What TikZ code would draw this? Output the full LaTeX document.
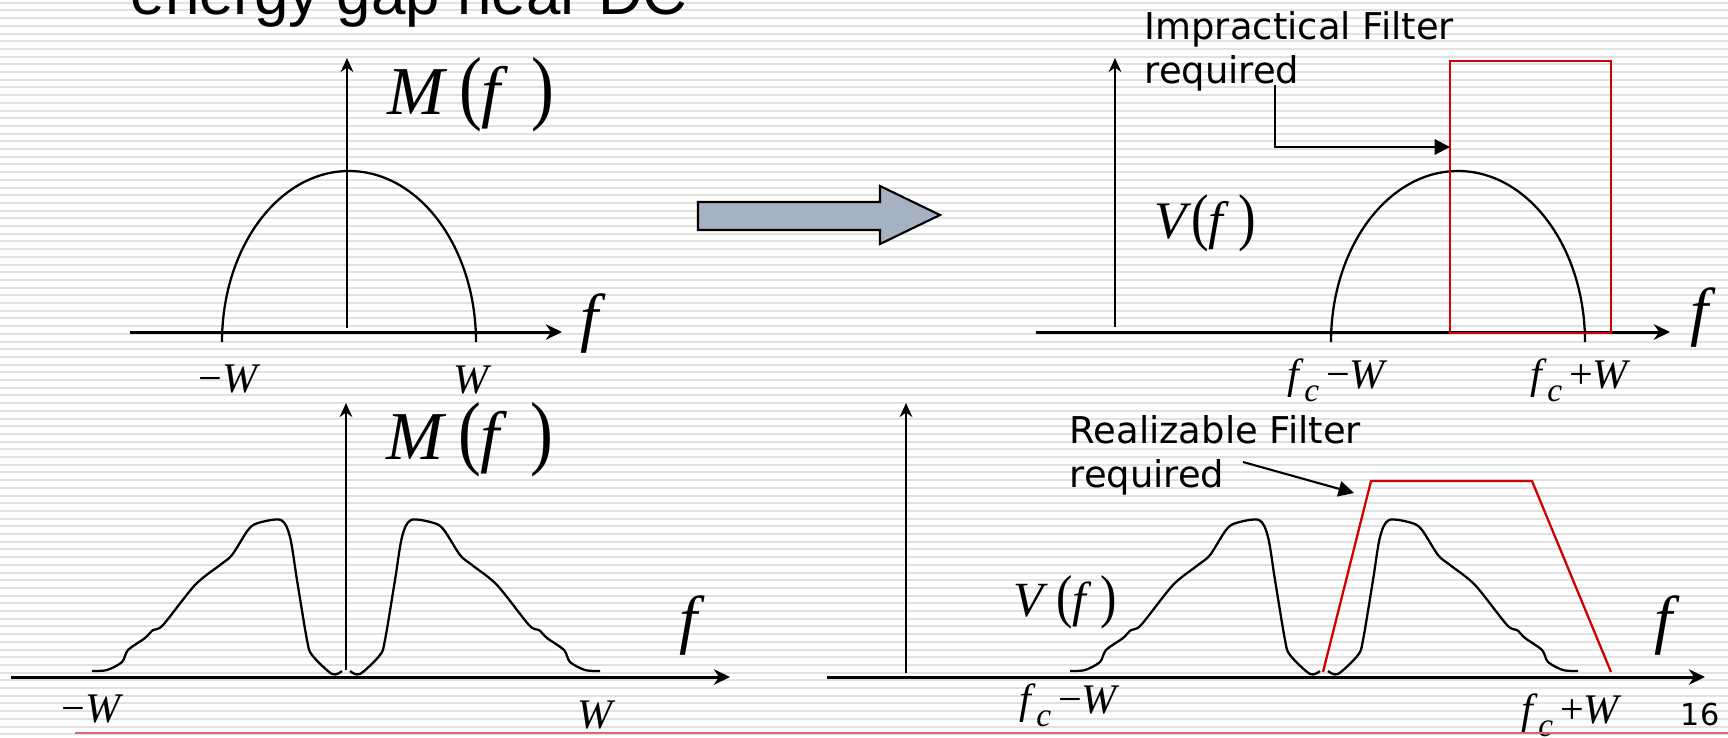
\documentclass[tikz,border=0pt]{standalone}
\usepackage{fontspec}
\usepackage{graphicx}
\setmainfont{Liberation Serif}
\newfontfamily\slidesans{DejaVu Sans}
\newfontfamily\headsans{Liberation Sans}
\usetikzlibrary{arrows.meta}
\definecolor{stripegray}{HTML}{E1E1E1}
\definecolor{blockfill}{HTML}{A4B2C1}
\definecolor{filterred}{HTML}{D00000}
\definecolor{rulered}{HTML}{D86C6C}
\newcommand{\tallp}[1]{\scalebox{1}[1.2]{#1}}
\newcommand{\fsubc}{\textit{f}\raisebox{-0.7ex}{\fontsize{9.5}{10}\selectfont\textit{c}}}

\tikzset{
  stripe/.style={stripegray,line width=0.57pt},
  haxis/.style={line width=0.85pt,-{Stealth[length=4.6pt,width=4.4pt]}},
  vaxis/.style={line width=0.6pt,-{Stealth[length=4pt,width=3.6pt]}},
  spectrum/.style={line width=0.65pt,line join=round},
  filter/.style={filterred,line width=0.65pt},
  pointer/.style={line width=0.6pt,-{Triangle[length=4.4pt,width=4.4pt]}},
  speclabel/.style={inner sep=0pt,font=\fontsize{19.5}{22}\selectfont},
  vlabel/.style={inner sep=0pt,font=\fontsize{15}{17}\selectfont},
  flabel/.style={inner sep=0pt,font=\fontsize{18.5}{20}\selectfont},
  edgelabel/.style={inner sep=0pt,anchor=base,font=\fontsize{12}{14}\selectfont},
  note/.style={inner sep=0pt,anchor=base west,align=left,
    font=\slidesans\fontsize{10.5}{12.5}\selectfont},
}

\begin{document}
\begin{tikzpicture}[x=0.1mm,y=0.1mm]
  \useasboundingbox (0,0) rectangle (1728,737);
  \clip (0,0) rectangle (1728,737);
  % striped slide background
  \foreach \k in {0,...,95}
    \draw[stripe] (0,734.3-7.7*\k) -- (1728,734.3-7.7*\k);
  \node[inner sep=0pt,anchor=base west,font=\headsans\fontsize{17.6}{20}\selectfont]
    (title) at (130,723) {energy gap near DC};

  % top left: baseband spectrum
  \draw[haxis] (130,405) -- (562,405);
  \draw[vaxis] (347,409) -- (347,679);
  \node[speclabel] (mTop) at (471,642) {\textit{M}\,\tallp{(}\textit{f}\,\,\tallp{)}};
  \node[flabel] (fTopL) at (593,413) {\textit{f}};
  \node[edgelabel] (wNegTop) at (230,345) {−\textit{W}};
  \node[edgelabel] (wPosTop) at (473,344) {\textit{W}};

  % top right: shifted spectrum, ideal filter
  \draw[haxis] (1036,405) -- (1670,405);
  \draw[vaxis] (1115,410) -- (1115,679);
  \foreach \cx in {349,1458}
    \draw[spectrum] (\cx-127,395) arc[start angle=180,end angle=0,x radius=127,y radius=171];
  \draw[filter] (1450,404) rectangle (1611,676);
  \node[vlabel] (vTop) at (1205,514) {\textit{V}\tallp{(}\textit{f}\,\tallp{)}};
  \node[flabel] (fTopR) at (1703,419) {\textit{f}};
  \node[edgelabel] (fcNegTop) at (1338,349) {\fsubc\,−\textit{W}};
  \node[edgelabel] (fcPosTop) at (1581,349) {\fsubc\,+\textit{W}};
  \node[note] (impNote) at (1144,654) {Impractical Filter\\required};
  \coordinate (impStart) at (1275,652);
  \coordinate (impTip) at (1450,590);
  \draw[pointer] (impStart) |- (impTip);

  % block arrow
  \draw[line width=0.6pt,fill=blockfill]
    (698,535) -- (880,535) -- (880,551) -- (940,522) -- (880,493)
    -- (880,507) -- (698,507) -- cycle;

  % bottom left: spectrum with gap near DC
  \draw[haxis] (11,60) -- (730,60);
  \draw[vaxis] (346,67) -- (346,334);
  \node[speclabel] (mBot) at (470,297) {\textit{M}\,\tallp{(}\textit{f}\,\,\tallp{)}};
  \node[flabel] (fBotL) at (692,111) {\textit{f}};
  \node[edgelabel] (wNegBot) at (93,15) {−\textit{W}};
  \node[edgelabel] (wPosBot) at (597,9) {\textit{W}};

  % bottom right: shifted spectrum, realizable filter
  \draw[haxis] (827,60) -- (1705,60);
  \draw[vaxis] (906,64) -- (906,334);
  \foreach \cx in {346,1324}
    \foreach \s in {1,-1}
      \draw[spectrum,shift={(\cx,60)},xscale=\s] plot[smooth,tension=0.5] coordinates {
        (4,6) (14,3) (34,22) (39,37) (49,97) (56,140) (65,157) (88,154)
        (98,147) (114,122) (126,112) (151,92) (183,52) (193,47) (201,39)
        (218,27) (224,15) (239,7) (254,6)};
  \draw[filter] (1323,65) -- (1371,256) -- (1532,256) -- (1611,65);
  \node[vlabel,font=\fontsize{14}{16}\selectfont] (vBot) at (1065,135)
    {\textit{V}\,\tallp{(}\textit{f}\,\tallp{)}};
  \node[flabel] (fBotR) at (1667,111) {\textit{f}};
  \node[edgelabel] (fcNegBot) at (1070,24) {\fsubc\,−\textit{W}};
  \node[edgelabel] (fcPosBot) at (1572,14) {\fsubc\,+\textit{W}};
  \node[note] (realNote) at (1069,250) {Realizable Filter\\required};
  \coordinate (realStart) at (1243,275);
  \coordinate (realTip) at (1354,244);
  \draw[pointer] (realStart) -- (realTip);

  \node[inner sep=0pt,anchor=base,font=\slidesans\fontsize{8.6}{10}\selectfont]
    (pageNo) at (1700,12) {16};
  \draw[rulered,line width=0.6pt] (75,4) -- (1728,4);
\end{tikzpicture}
\end{document}
